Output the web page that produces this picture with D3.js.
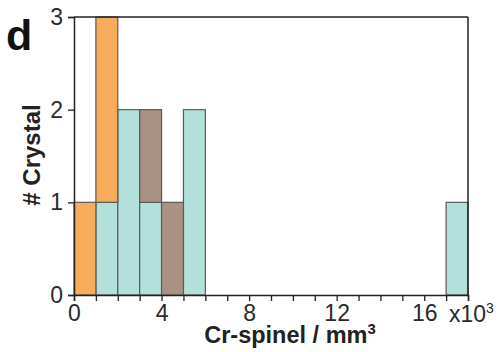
<!DOCTYPE html>
<html><head><meta charset="utf-8">
<script src="https://cdn.jsdelivr.net/npm/d3@7"></script>
<style>
html,body{margin:0;padding:0;background:#fff;}
svg{display:block;font-family:"Liberation Sans",Arial,sans-serif;}
</style></head>
<body><svg id="c" width="498" height="352"></svg>
<script>
// bins in units of 10^3 mm^3 (bin start, width 1)
const binStarts = [0, 1, 2, 3, 4, 5, 17];
const teal   = [0, 1, 2, 1, 0, 2, 1];
const brown  = [0, 0, 0, 1, 1, 0, 0];
const orange = [1, 2, 0, 0, 0, 0, 0];
const seriesKeys = ["teal", "brown", "orange"];
const seriesColors = {teal: "#b3e0da", brown: "#a99283", orange: "#f6ac59"};
const xTickLabels = [0, 4, 8, 12, 16];
const yTicks = [0, 1, 2, 3];

const svg = d3.select("#c");
const x = d3.scaleLinear().domain([0, 18]).range([74, 468]);
const y = d3.scaleLinear().domain([0, 3]).range([295, 17]);

const rows = binStarts.map((b, i) => ({b, teal: teal[i], brown: brown[i], orange: orange[i]}));
const stacked = d3.stack().keys(seriesKeys)(rows);

stacked.forEach(s => {
  svg.append("g").selectAll("rect").data(s.filter(d => d[1] > d[0])).join("rect")
    .attr("x", d => x(d.data.b))
    .attr("width", d => x(d.data.b + 1) - x(d.data.b))
    .attr("y", d => y(d[1]))
    .attr("height", d => y(d[0]) - y(d[1]))
    .attr("fill", seriesColors[s.key])
    .attr("stroke", "#5a5a5a")
    .attr("stroke-width", 1.2);
});

// frame: top and right borders
svg.append("line").attr("x1", x(0)).attr("x2", x(18)).attr("y1", y(3)).attr("y2", y(3))
  .attr("stroke", "#222").attr("stroke-width", 1.5);
svg.append("line").attr("x1", x(18)).attr("x2", x(18)).attr("y1", y(3)).attr("y2", y(0))
  .attr("stroke", "#222").attr("stroke-width", 1.5);

// x axis
const xAxis = d3.axisBottom(x).tickValues(d3.range(0, 19)).tickSize(6).tickPadding(3)
  .tickFormat(d => xTickLabels.includes(d) ? d : "");
const gx = svg.append("g").attr("transform", `translate(0,${y(0)})`).call(xAxis);
gx.select(".domain").attr("stroke", "#222").attr("stroke-width", 1.5);
gx.selectAll(".tick line").attr("stroke", "#222").attr("stroke-width", 1.3);
gx.selectAll("text").attr("font-size", 23).attr("fill", "#2a2a2a").attr("dy", "0.72em");

// y axis
const yAxis = d3.axisLeft(y).tickValues(yTicks).tickSize(6).tickPadding(5).tickFormat(d3.format("d"));
const gy = svg.append("g").attr("transform", `translate(${x(0)},0)`).call(yAxis);
gy.select(".domain").attr("stroke", "#222").attr("stroke-width", 1.5);
gy.selectAll(".tick line").attr("stroke", "#222").attr("stroke-width", 1.3);
gy.selectAll("text").attr("font-size", 23).attr("fill", "#2a2a2a");

// x10^3
const mult = svg.append("text").attr("x", 449).attr("y", 322).attr("font-size", 23).attr("fill", "#2a2a2a");
mult.append("tspan").text("x10");
mult.append("tspan").attr("font-size", 14).attr("dy", -9).text("3");

// axis titles
const xt = svg.append("text").attr("x", 290).attr("y", 343).attr("text-anchor", "middle")
  .attr("font-size", 23.5).attr("font-weight", "bold").attr("fill", "#222");
xt.append("tspan").text("Cr-spinel / mm");
xt.append("tspan").attr("font-size", 15).attr("dy", -9).text("3");

svg.append("text").attr("transform", "translate(40,155) rotate(-90)").attr("text-anchor", "middle")
  .attr("font-size", 24).attr("font-weight", "bold").attr("fill", "#222").text("# Crystal");

// panel letter
svg.append("text").attr("x", 6).attr("y", 50).attr("font-size", 43).attr("font-weight", "bold")
  .attr("fill", "#111").text("d");
</script></body></html>
